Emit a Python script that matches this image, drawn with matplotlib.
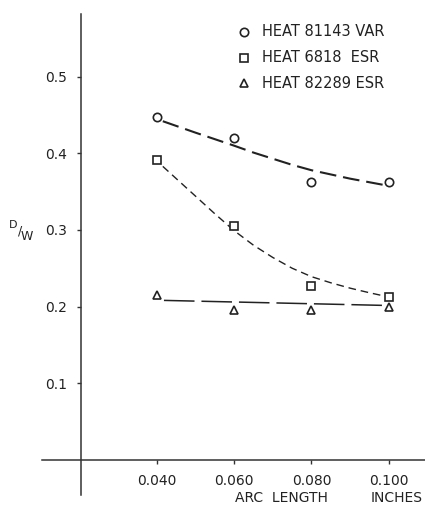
import matplotlib
matplotlib.use("Agg")
import matplotlib.pyplot as plt

plt.rcParams['font.family'] = ['DejaVu Sans']
plt.rcParams['lines.scale_dashes'] = False

# ---- data ----
arc_length = [0.040, 0.060, 0.080, 0.100]
dw_81143_var = [0.447, 0.420, 0.362, 0.362]
dw_6818_esr = [0.392, 0.305, 0.227, 0.213]
dw_82289_esr = [0.215, 0.195, 0.195, 0.200]

# hand-drawn fit curves in the reference
fit_var_x = [0.0415, 0.050, 0.060, 0.065, 0.070, 0.075, 0.080, 0.090, 0.0985]
fit_var_y = [0.442, 0.427, 0.410, 0.401, 0.393, 0.385, 0.378, 0.367, 0.359]
fit_6818_x = [0.0415, 0.050, 0.055, 0.060, 0.065, 0.070, 0.075, 0.080, 0.085, 0.090, 0.095, 0.0995]
fit_6818_y = [0.383, 0.344, 0.321, 0.299, 0.280, 0.264, 0.250, 0.239, 0.231, 0.224, 0.218, 0.213]
fit_82289_x = [0.0418, 0.0985]
fit_82289_y = [0.208, 0.2015]

x_ticks = [0.040, 0.060, 0.080, 0.100]
x_tick_labels = ["0.040", "0.060", "0.080", "0.100"]
y_ticks = [0.1, 0.2, 0.3, 0.4, 0.5]
y_tick_labels = ["0.1", "0.2", "0.3", "0.4", "0.5"]

legend_labels = ["HEAT 81143 VAR", "HEAT 6818  ESR", "HEAT 82289 ESR"]
legend_markers = ["o", "s", "^"]

ink = "#222222"

fig = plt.figure(figsize=(4.25, 5.05), dpi=100)
fig.patch.set_facecolor("white")
ax = fig.add_axes([0, 0, 1, 1])
ax.set_facecolor("white")
ax.set_xlim(-0.00066, 0.1094)
ax.set_ylim(-0.0592, 0.6003)

# axes as crossing lines
for s in ["top", "right"]:
    ax.spines[s].set_visible(False)
ax.spines["left"].set_position(("data", 0.0203))
ax.spines["bottom"].set_position(("data", 0.0))
ax.spines["left"].set_bounds(-0.046, 0.582)
ax.spines["bottom"].set_bounds(0.0102, 0.1094)
for s in ["left", "bottom"]:
    ax.spines[s].set_color("#333333")
    ax.spines[s].set_linewidth(1.1)

ax.set_xticks(x_ticks)
ax.set_xticklabels(x_tick_labels)
ax.set_yticks(y_ticks)
ax.set_yticklabels(y_tick_labels)
ax.tick_params(axis="both", direction="out", length=3, width=1.0, color="#333333",
               labelsize=10, labelcolor=ink)
ax.tick_params(axis="x", pad=7)
ax.tick_params(axis="y", pad=7)

mk = dict(markerfacecolor="white", markeredgecolor=ink, markeredgewidth=1.2,
          linestyle="none", zorder=3, clip_on=False)

# curves
ax.plot(fit_var_x, fit_var_y, color=ink, lw=1.5, linestyle=(0, (12, 5)))
ax.plot(fit_6818_x, fit_6818_y, color=ink, lw=1.0, linestyle=(0, (5.5, 3.5)))
ax.plot(fit_82289_x, fit_82289_y, color=ink, lw=1.1, linestyle=(0, (22, 5)))

# points
ax.plot(arc_length, dw_81143_var, marker="o", markersize=6, **mk)
ax.plot(arc_length, dw_6818_esr, marker="s", markersize=6, **mk)
ax.plot(arc_length, dw_82289_esr, marker="^", markersize=6, **mk)

# legend (manual, figure pixel positions)
W, H = 425.0, 505.0
rows_y = [32, 58, 83]
for lab, m, yy in zip(legend_labels, legend_markers, rows_y):
    ax.plot([244 / W], [1 - yy / H], marker=m, markersize=6, transform=ax.transAxes,
            **{k: v for k, v in mk.items() if k != "zorder"})
    fig.text(262 / W, 1 - yy / H, lab, fontsize=10.5, color=ink, va="center", ha="left")

# y label D/W
fig.text(13 / W, 1 - 225 / H, "D", fontsize=8, color=ink, ha="center", va="center")
fig.text(20 / W, 1 - 231 / H, "/", fontsize=9, color=ink, ha="center", va="center")
fig.text(27 / W, 1 - 237 / H, "W", fontsize=9, color=ink, ha="center", va="center")

# x label
fig.text(281 / W, 1 - 498 / H, "ARC  LENGTH", fontsize=10, color=ink, ha="center", va="center")
fig.text(423 / W, 1 - 498 / H, "INCHES", fontsize=10, color=ink, ha="right", va="center")

fig.savefig("out.png", dpi=100, facecolor="white")
